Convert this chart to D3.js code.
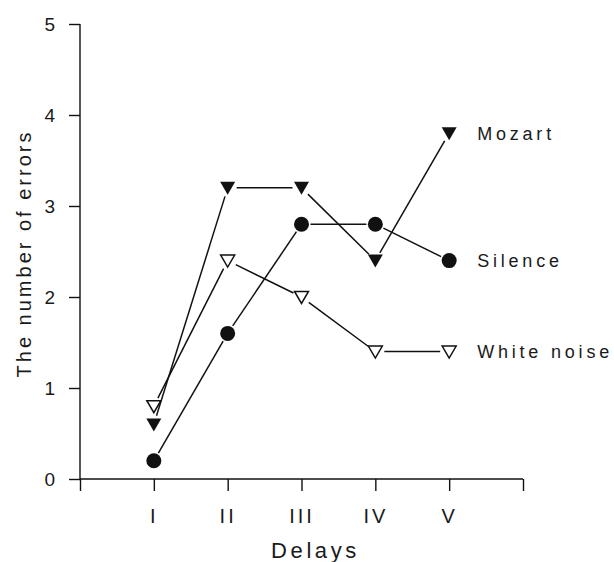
<!DOCTYPE html>
<html>
<head>
<meta charset="utf-8">
<script src="https://cdn.jsdelivr.net/npm/d3@7"></script>
<style>
body { margin: 0; background: #fff; }
svg text { font-family: "Liberation Sans", Arial, sans-serif; fill: #1a1a1a; }
</style>
</head>
<body>
<div id="viz"></div>
<script>
var w = 614,
	h = 562;

// data
var delays = ['I', 'II', 'III', 'IV', 'V'];
var mozart = [0.6, 3.2, 3.2, 2.4, 3.8];
var silence = [0.2, 1.6, 2.8, 2.8, 2.4];
var whiteNoise = [0.8, 2.4, 2.0, 1.4, 1.4];
var seriesNames = ['Mozart', 'Silence', 'White noise'];
var yTicks = [0, 1, 2, 3, 4, 5];

var series = [
	{ name: seriesNames[0], values: mozart, marker: 'tri' },
	{ name: seriesNames[1], values: silence, marker: 'dot' },
	{ name: seriesNames[2], values: whiteNoise, marker: 'open' }
];

var x = d3.scaleLinear().domain([0, 6]).range([80, 523]);
var y = d3.scaleLinear().domain([0, 5]).range([479, 24]);

var svg = d3.select('#viz').append('svg')
	.attr('width', w)
	.attr('height', h);

//AXES
var yAxis = svg.append('g')
	.attr('transform', 'translate(' + x(0) + ',0)')
	.call(d3.axisLeft(y).tickValues(yTicks).tickSize(11).tickPadding(14).tickFormat(d3.format('d')));
yAxis.select('.domain').remove();
yAxis.selectAll('text').style('font-size', '19px');

var xAxis = svg.append('g')
	.attr('transform', 'translate(0,' + y(0) + ')')
	.call(d3.axisBottom(x).tickValues([0, 1, 2, 3, 4, 5, 6]).tickSize(12).tickPadding(18)
		.tickFormat(function(d){ return (d >= 1 && d <= 5) ? delays[d - 1] : ''; }));
xAxis.select('.domain').remove();
xAxis.selectAll('text')
	.style('font-size', '20px')
	.style('letter-spacing', '3px');

svg.selectAll('.tick line').attr('stroke', '#111').attr('stroke-width', 1.4);

svg.append('line')
	.attr('x1', x(0)).attr('x2', x(0))
	.attr('y1', y(5)).attr('y2', y(0))
	.attr('stroke', '#111').attr('stroke-width', 1.4);
svg.append('line')
	.attr('x1', x(0)).attr('x2', x(6))
	.attr('y1', y(0)).attr('y2', y(0))
	.attr('stroke', '#111').attr('stroke-width', 1.4);

svg.append('text')
	.attr('transform', 'translate(31,' + (y(2.5) + 2) + ') rotate(-90)')
	.attr('text-anchor', 'middle')
	.style('font-size', '20px')
	.style('letter-spacing', '3px')
	.text('The number of errors');

svg.append('text')
	.attr('x', x(3) + 14)
	.attr('y', 558)
	.attr('text-anchor', 'middle')
	.style('font-size', '22px')
	.style('letter-spacing', '3.6px')
	.text('Delays');

//LINES (stop short of the markers)
var gap = 9;
var lines = svg.append('g');
series.forEach(function(s){
	for (var i = 0; i < s.values.length - 1; i++) {
		var x1 = x(i + 1), y1 = y(s.values[i]),
			x2 = x(i + 2), y2 = y(s.values[i + 1]);
		var len = Math.sqrt((x2 - x1) * (x2 - x1) + (y2 - y1) * (y2 - y1));
		var ux = (x2 - x1) / len, uy = (y2 - y1) / len;
		lines.append('line')
			.attr('x1', x1 + ux * gap).attr('y1', y1 + uy * gap)
			.attr('x2', x2 - ux * gap).attr('y2', y2 - uy * gap)
			.attr('stroke', '#111')
			.attr('stroke-width', 1.5);
	}
});

//MARKERS
var tri = 'M-7.5,-6L7.5,-6L0,7Z';
series.forEach(function(s){
	var g = svg.append('g').selectAll('.m')
		.data(s.values)
		.enter().append('g')
		.attr('transform', function(d, i){ return 'translate(' + x(i + 1) + ',' + y(d) + ')'; });
	if (s.marker === 'dot') {
		g.append('circle').attr('r', 7.5).attr('fill', '#111');
	} else if (s.marker === 'tri') {
		g.append('path').attr('d', tri).attr('fill', '#111');
	} else {
		g.append('path').attr('d', 'M-7,-5.5L7,-5.5L0,6.5Z')
			.attr('fill', '#fff').attr('stroke', '#111').attr('stroke-width', 1.5);
	}
	svg.append('text')
		.attr('x', x(5) + 28)
		.attr('y', y(s.values[s.values.length - 1]))
		.attr('dy', '0.36em')
		.style('font-size', '18px')
		.style('letter-spacing', '3.8px')
		.text(s.name);
});
</script>
</body>
</html>
